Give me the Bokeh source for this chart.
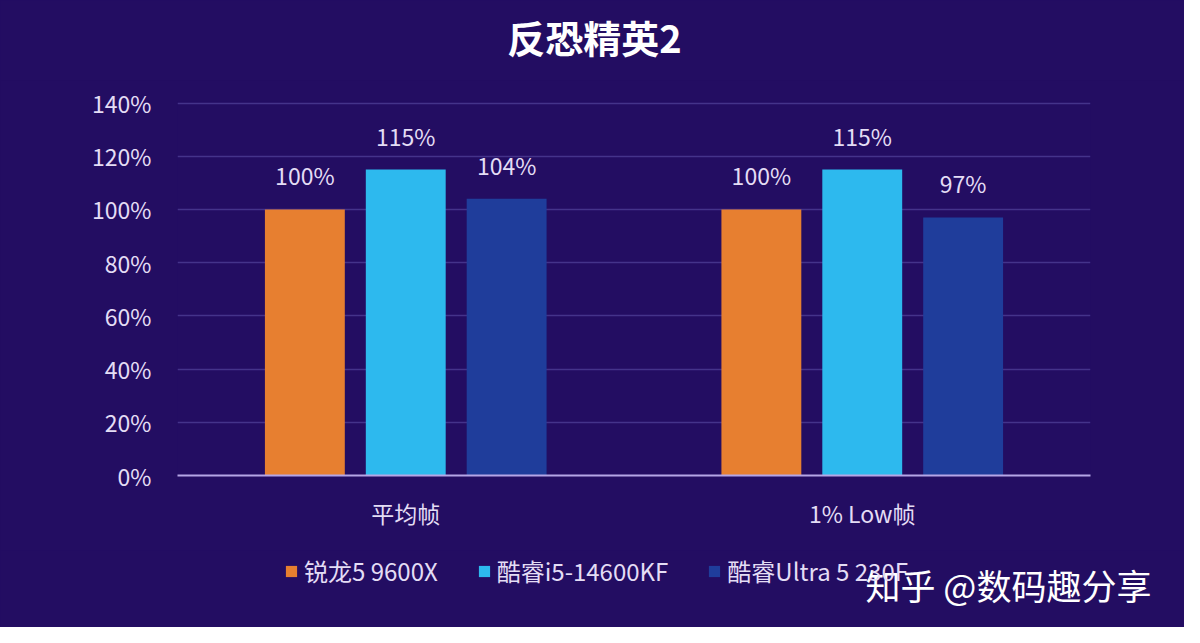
from bokeh.plotting import figure
from bokeh.models import ColumnDataSource, FactorRange, Range1d, Legend, LegendItem, FixedTicker, Label
from bokeh.layouts import column
from bokeh.transform import dodge
from bokeh.core.properties import value
from bokeh.embed import file_html
from bokeh.resources import INLINE

categories = ["平均帧", "1% Low帧"]
series_names = ["锐龙5 9600X", "酷睿i5-14600KF", "酷睿Ultra 5 230F"]
ryzen = [100, 100]
i5 = [115, 115]
ultra = [104, 97]
y_ticks = [0, 20, 40, 60, 80, 100, 120, 140]
title_text = "反恐精英2"
watermark = "知乎 @数码趣分享"

colors = ["#e77f30", "#2db9ee", "#1f3d9b"]
BG = "#230d62"
TXT = "#e4ddf5"
FONT = "Noto Sans CJK SC"
W = 1184


def strip(h):
    f = figure(width=W, height=h, x_range=Range1d(0, 1), y_range=Range1d(0, 1),
               output_backend="svg", toolbar_location=None,
               x_axis_type=None, y_axis_type=None, min_border=0, title=None)
    f.frame_align = False
    f.background_fill_color = BG
    f.border_fill_color = BG
    f.outline_line_color = None
    f.grid.visible = False
    f.styles = {"background-color": BG}
    return f


src = ColumnDataSource(dict(
    cat=categories,
    s0=ryzen, s1=i5, s2=ultra,
    l0=[f"{v}%" for v in ryzen],
    l1=[f"{v}%" for v in i5],
    l2=[f"{v}%" for v in ultra],
))

# Title strip
p0 = strip(80)
p0.add_layout(Label(x=594, y=44, x_units="screen", y_units="screen", text=title_text,
                    text_align="center", text_baseline="middle", text_color="white",
                    text_font=FONT, text_font_size="38px", text_font_style="bold"))

# Main chart
xr = FactorRange(*categories)
p = figure(width=W, height=470, x_range=xr, y_range=Range1d(0, 140.6),
           output_backend="svg", toolbar_location=None, title=None,
           min_border_left=177, min_border_right=94, min_border_top=21, min_border_bottom=75)
p.frame_align = False
p.background_fill_color = BG
p.border_fill_color = BG
p.outline_line_color = None
p.styles = {"background-color": BG}

offsets = [-0.221, 0.0, 0.221]
for i, off in enumerate(offsets):
    p.vbar(x=dodge("cat", off, range=xr), top=f"s{i}", width=0.175, bottom=0,
           source=src, fill_color=colors[i], line_color=None)
    p.text(x=dodge("cat", off, range=xr), y=f"s{i}", text=f"l{i}", source=src,
           text_align="center", text_baseline="bottom", y_offset=-17,
           text_color=TXT, text_font=value(FONT), text_font_size="23px")

p.yaxis.ticker = FixedTicker(ticks=y_ticks)
p.yaxis.major_label_overrides = {t: f"{t}%" for t in y_ticks}
p.yaxis.axis_line_color = None
p.yaxis.major_tick_line_color = None
p.yaxis.minor_tick_line_color = None
p.yaxis.major_label_text_color = TXT
p.yaxis.major_label_text_font = FONT
p.yaxis.major_label_text_font_size = "23px"
p.yaxis.major_label_standoff = 20

p.xaxis.axis_line_color = "#b5a6e6"
p.xaxis.axis_line_width = 2
p.xaxis.major_tick_line_color = None
p.xaxis.minor_tick_line_color = None
p.xaxis.major_label_text_color = TXT
p.xaxis.major_label_text_font = FONT
p.xaxis.major_label_text_font_size = "23px"
p.xaxis.major_label_standoff = 14

p.xgrid.grid_line_color = None
p.ygrid.grid_line_color = "#44338a"
p.ygrid.grid_line_width = 1.5

# Legend + watermark strip
p2 = figure(width=W, height=77, x_range=xr, y_range=Range1d(1000, 1001),
            output_backend="svg", toolbar_location=None, title=None,
            x_axis_type=None, y_axis_type=None, min_border=0)
p2.frame_align = False
p2.background_fill_color = BG
p2.border_fill_color = BG
p2.outline_line_color = None
p2.grid.visible = False
p2.styles = {"background-color": BG}
leg_r = []
for i, off in enumerate(offsets):
    r = p2.vbar(x=dodge("cat", off, range=xr), top=f"s{i}", width=0.175, bottom=0,
                source=src, fill_color=colors[i], line_color=None)
    leg_r.append(r)

legend = Legend(items=[LegendItem(label=series_names[i], renderers=[leg_r[i]]) for i in range(3)],
                orientation="horizontal", location=(284, 39),
                background_fill_alpha=0, border_line_color=None,
                label_text_color=TXT, label_text_font=FONT, label_text_font_size="24px",
                glyph_width=14, glyph_height=14, label_standoff=6, spacing=39, padding=0, margin=0)
p2.add_layout(legend, "center")

p2.add_layout(Label(x=865, y=43, x_units="screen", y_units="screen", text=watermark,
                    text_color="white", text_font=FONT, text_font_size="35px",
                    text_baseline="middle"))

layout = column(p0, p, p2, spacing=0)
layout.styles = {"background-color": BG}
open("out.html", "w").write(file_html(layout, INLINE))
